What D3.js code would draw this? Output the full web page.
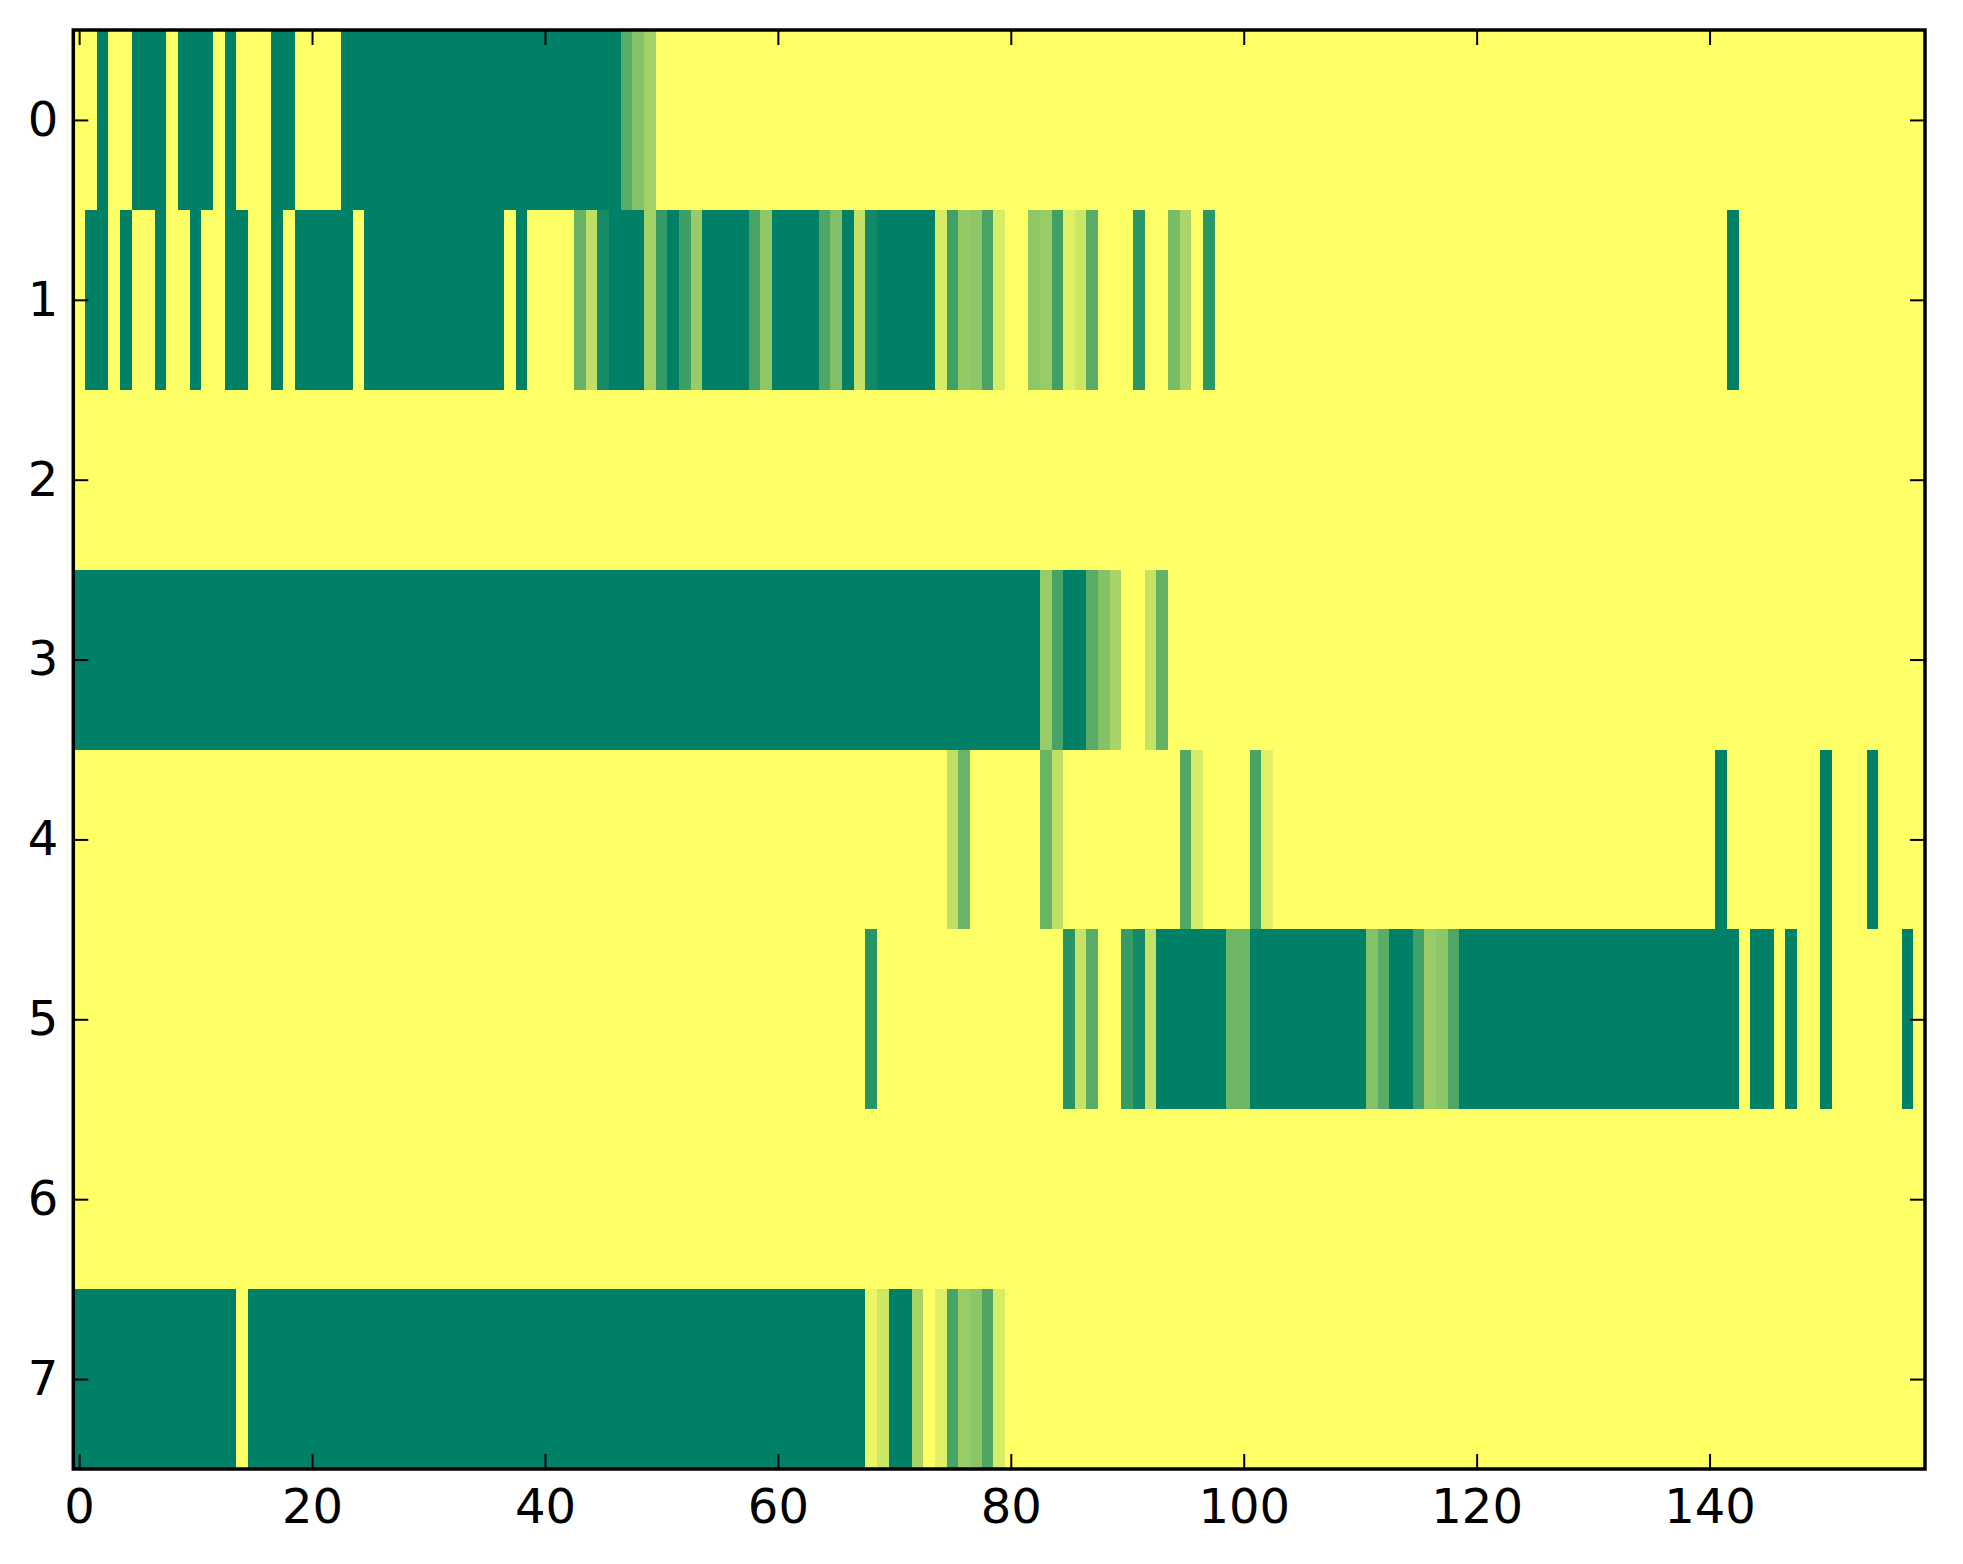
<!DOCTYPE html>
<html>
<head>
<meta charset="utf-8">
<script src="https://cdn.jsdelivr.net/npm/d3@7"></script>
<style>
  body { margin: 0; background: #fff; }
</style>
</head>
<body>
<div id="chart-container"></div>
<script>
// Cell values, one array per row (0 = dark green, 1 = yellow), 159 columns each
const row0 = [
  1,1,0,1,1,0,0,0,1,0,
  0,0,1,0,1,1,1,0,0,1,
  1,1,1,0,0,0,0,0,0,0,
  0,0,0,0,0,0,0,0,0,0,
  0,0,0,0,0,0,0,0.35,0.53,0.64,
  1,1,1,1,1,1,1,1,1,1,
  1,1,1,1,1,1,1,1,1,1,
  1,1,1,1,1,1,1,1,1,1,
  1,1,1,1,1,1,1,1,1,1,
  1,1,1,1,1,1,1,1,1,1,
  1,1,1,1,1,1,1,1,1,1,
  1,1,1,1,1,1,1,1,1,1,
  1,1,1,1,1,1,1,1,1,1,
  1,1,1,1,1,1,1,1,1,1,
  1,1,1,1,1,1,1,1,1,1,
  1,1,1,1,1,1,1,1,1
];
const row1 = [
  1,0,0,1,0,1,1,0,1,1,
  0,1,1,0,0,1,1,0,1,0,
  0,0,0,0,1,0,0,0,0,0,
  0,0,0,0,0,0,0,1,0,1,
  1,1,1,0.4,0.75,0.09,0,0,0,0.64,
  0.21,0,0.24,0.6,0,0,0,0,0.28,0.56,
  0,0,0,0,0.31,0.5,0,0.76,0.07,0,
  0,0,0,0,0.84,0.25,0.58,0.55,0.28,0.84,
  1,1,0.56,0.6,0.25,0.88,0.8,0.35,1,1,
  1,0.17,1,1,0.47,0.67,1,0.17,1,1,
  1,1,1,1,1,1,1,1,1,1,
  1,1,1,1,1,1,1,1,1,1,
  1,1,1,1,1,1,1,1,1,1,
  1,1,1,1,1,1,1,1,1,1,
  1,1,0,1,1,1,1,1,1,1,
  1,1,1,1,1,1,1,1,1
];
const row2 = [
  1,1,1,1,1,1,1,1,1,1,
  1,1,1,1,1,1,1,1,1,1,
  1,1,1,1,1,1,1,1,1,1,
  1,1,1,1,1,1,1,1,1,1,
  1,1,1,1,1,1,1,1,1,1,
  1,1,1,1,1,1,1,1,1,1,
  1,1,1,1,1,1,1,1,1,1,
  1,1,1,1,1,1,1,1,1,1,
  1,1,1,1,1,1,1,1,1,1,
  1,1,1,1,1,1,1,1,1,1,
  1,1,1,1,1,1,1,1,1,1,
  1,1,1,1,1,1,1,1,1,1,
  1,1,1,1,1,1,1,1,1,1,
  1,1,1,1,1,1,1,1,1,1,
  1,1,1,1,1,1,1,1,1,1,
  1,1,1,1,1,1,1,1,1
];
const row3 = [
  0,0,0,0,0,0,0,0,0,0,
  0,0,0,0,0,0,0,0,0,0,
  0,0,0,0,0,0,0,0,0,0,
  0,0,0,0,0,0,0,0,0,0,
  0,0,0,0,0,0,0,0,0,0,
  0,0,0,0,0,0,0,0,0,0,
  0,0,0,0,0,0,0,0,0,0,
  0,0,0,0,0,0,0,0,0,0,
  0,0,0,0.6,0.28,0,0,0.35,0.52,0.66,
  1,1,0.77,0.39,1,1,1,1,1,1,
  1,1,1,1,1,1,1,1,1,1,
  1,1,1,1,1,1,1,1,1,1,
  1,1,1,1,1,1,1,1,1,1,
  1,1,1,1,1,1,1,1,1,1,
  1,1,1,1,1,1,1,1,1,1,
  1,1,1,1,1,1,1,1,1
];
const row4 = [
  1,1,1,1,1,1,1,1,1,1,
  1,1,1,1,1,1,1,1,1,1,
  1,1,1,1,1,1,1,1,1,1,
  1,1,1,1,1,1,1,1,1,1,
  1,1,1,1,1,1,1,1,1,1,
  1,1,1,1,1,1,1,1,1,1,
  1,1,1,1,1,1,1,1,1,1,
  1,1,1,1,1,0.75,0.41,1,1,1,
  1,1,1,0.41,0.75,1,1,1,1,1,
  1,1,1,1,1,0.32,0.84,1,1,1,
  1,0.28,0.88,1,1,1,1,1,1,1,
  1,1,1,1,1,1,1,1,1,1,
  1,1,1,1,1,1,1,1,1,1,
  1,1,1,1,1,1,1,1,1,1,
  1,0,1,1,1,1,1,1,1,1,
  0,1,1,1,0,1,1,1,1
];
const row5 = [
  1,1,1,1,1,1,1,1,1,1,
  1,1,1,1,1,1,1,1,1,1,
  1,1,1,1,1,1,1,1,1,1,
  1,1,1,1,1,1,1,1,1,1,
  1,1,1,1,1,1,1,1,1,1,
  1,1,1,1,1,1,1,1,1,1,
  1,1,1,1,1,1,1,1,0.16,1,
  1,1,1,1,1,1,1,1,1,1,
  1,1,1,1,1,0.16,0.78,0.35,1,1,
  0.22,0.08,0.77,0,0,0,0,0,0,0.43,
  0.43,0,0,0,0,0,0,0,0,0,
  0,0.52,0.35,0,0,0.26,0.6,0.55,0.31,0,
  0,0,0,0,0,0,0,0,0,0,
  0,0,0,0,0,0,0,0,0,0,
  0,0,0,1,0,0,1,0,1,1,
  0,1,1,1,1,1,1,0,1
];
const row6 = [
  1,1,1,1,1,1,1,1,1,1,
  1,1,1,1,1,1,1,1,1,1,
  1,1,1,1,1,1,1,1,1,1,
  1,1,1,1,1,1,1,1,1,1,
  1,1,1,1,1,1,1,1,1,1,
  1,1,1,1,1,1,1,1,1,1,
  1,1,1,1,1,1,1,1,1,1,
  1,1,1,1,1,1,1,1,1,1,
  1,1,1,1,1,1,1,1,1,1,
  1,1,1,1,1,1,1,1,1,1,
  1,1,1,1,1,1,1,1,1,1,
  1,1,1,1,1,1,1,1,1,1,
  1,1,1,1,1,1,1,1,1,1,
  1,1,1,1,1,1,1,1,1,1,
  1,1,1,1,1,1,1,1,1,1,
  1,1,1,1,1,1,1,1,1
];
const row7 = [
  0,0,0,0,0,0,0,0,0,0,
  0,0,0,0,1,0,0,0,0,0,
  0,0,0,0,0,0,0,0,0,0,
  0,0,0,0,0,0,0,0,0,0,
  0,0,0,0,0,0,0,0,0,0,
  0,0,0,0,0,0,0,0,0,0,
  0,0,0,0,0,0,0,0,0.92,0.8,
  0,0,0.66,1,0.88,0.28,0.6,0.55,0.3,0.84,
  1,1,1,1,1,1,1,1,1,1,
  1,1,1,1,1,1,1,1,1,1,
  1,1,1,1,1,1,1,1,1,1,
  1,1,1,1,1,1,1,1,1,1,
  1,1,1,1,1,1,1,1,1,1,
  1,1,1,1,1,1,1,1,1,1,
  1,1,1,1,1,1,1,1,1,1,
  1,1,1,1,1,1,1,1,1
];

const rows = [row0, row1, row2, row3, row4, row5, row6, row7];
const xTicks = [0, 20, 40, 60, 80, 100, 120, 140];
const yTicks = [0, 1, 2, 3, 4, 5, 6, 7];

// Set dimensions and margins for the chart
const W = 1963, H = 1564;
const margin = {top: 30, right: 38, bottom: 95, left: 73.3};
const width = W - margin.left - margin.right;
const height = H - margin.top - margin.bottom;
const nCols = row0.length;

const svg = d3.select("#chart-container")
  .append("svg")
    .attr("width", W)
    .attr("height", H)
  .append("g")
    .attr("transform", `translate(${margin.left},${margin.top})`);

// scales (cells centred on integers, like imshow)
const x = d3.scaleLinear().domain([-0.5, nCols - 0.5]).range([0, width]);
const y = d3.scaleLinear().domain([-0.5, rows.length - 0.5]).range([0, height]);

// summer colormap
const color = d3.scaleLinear()
  .domain([0, 1])
  .range(["rgb(0,128,102)", "rgb(255,255,102)"])
  .interpolate(d3.interpolateRgb);

const cells = rows.flatMap((vals, r) => vals.map((v, c) => ({r, c, v})));

svg.selectAll("rect.cell")
  .data(cells)
  .join("rect")
    .attr("class", "cell")
    .attr("x", d => x(d.c - 0.5))
    .attr("y", d => y(d.r - 0.5))
    .attr("width", d => x(d.c + 0.5) - x(d.c - 0.5) + 0.4)
    .attr("height", d => y(d.r + 0.5) - y(d.r - 0.5) + 0.4)
    .attr("fill", d => color(d.v))
    .attr("shape-rendering", "crispEdges");

// Axes, ticks pointing inward on all four sides
function styleAxis(g) {
  g.select(".domain").remove();
  g.attr("font-size", 48).attr("font-family", "'DejaVu Sans', sans-serif");
  g.selectAll(".tick line").attr("stroke", "#000").attr("stroke-width", 2);
  g.selectAll(".tick text").attr("fill", "#000");
}

svg.append("g")
  .attr("transform", `translate(0,${height})`)
  .call(d3.axisBottom(x).tickValues(xTicks).tickSize(-15).tickSizeOuter(0).tickPadding(20))
  .call(styleAxis);

svg.append("g")
  .call(d3.axisTop(x).tickValues(xTicks).tickSize(-15).tickSizeOuter(0).tickFormat(""))
  .call(styleAxis);

svg.append("g")
  .call(d3.axisLeft(y).tickValues(yTicks).tickSize(-15).tickSizeOuter(0).tickPadding(15))
  .call(styleAxis);

svg.append("g")
  .attr("transform", `translate(${width},0)`)
  .call(d3.axisRight(y).tickValues(yTicks).tickSize(-15).tickSizeOuter(0).tickFormat(""))
  .call(styleAxis);

// frame
svg.append("rect")
  .attr("x", 0)
  .attr("y", 0)
  .attr("width", width)
  .attr("height", height)
  .attr("fill", "none")
  .attr("stroke", "#000")
  .attr("stroke-width", 3.5);
</script>
</body>
</html>
